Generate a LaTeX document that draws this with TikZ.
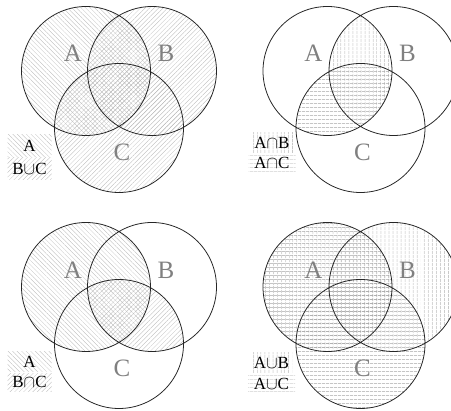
\documentclass[tikz,border=0pt]{standalone}
\usepackage{fontspec}
\setmainfont{Liberation Serif}
\usetikzlibrary{patterns.meta, positioning}

\tikzset{
  vennline/.style={draw=black!85, line width=0.8pt},
  backhatch/.style={pattern={Lines[angle=-45,distance=3.2pt,line width=0.3pt]}, pattern color=gray!55},
  fwdhatch/.style={pattern={Lines[angle=45,distance=3.2pt,line width=0.3pt]}, pattern color=gray!55},
  vhatch/.style={pattern={Lines[angle=90,distance=4pt,line width=0.35pt]}, pattern color=gray!70},
  hhatch/.style={pattern={Lines[angle=0,distance=4pt,line width=0.35pt]}, pattern color=gray!70},
  setlabel/.style={text=gray, font=\fontsize{25}{25}\selectfont},
  legendbox/.style={minimum width=44pt, minimum height=22pt, inner sep=0pt, font=\fontsize{17}{17}\selectfont},
}
\newcommand{\vennA}{(0,0) circle (64.5pt)}
\newcommand{\vennB}{(66,0) circle (64.5pt)}
\newcommand{\vennC}{(33,57) circle (64.5pt)}

\begin{document}
\begin{tikzpicture}[x=1pt, y=-1pt]
    \useasboundingbox (0,0) rectangle (451,411);
    \clip (0,0) rectangle (451,411);

    % --- Top left: A and B u C ---
    \begin{scope}[shift={(86,71)}]
        \fill[backhatch] \vennA;
        \fill[fwdhatch] \vennB;
        \fill[fwdhatch] \vennC;
        \draw[vennline] \vennA \vennB \vennC;
        \node[setlabel] (labA1) at (-13,-18) {A};
        \node[setlabel] (labB1) at (80,-18) {B};
        \node[setlabel] (labC1) at (36,81) {C};
        % legend
        \node[legendbox, backhatch] (keyA1) at (-56.5,74.5) {A};
        \node[legendbox, fwdhatch, below=1pt of keyA1] (keyBC1) {B$\cup$C};
    \end{scope}

    % --- Top right: A n B and A n C ---
    \begin{scope}[shift={(327.5,71)}]
        \begin{scope}
            \clip \vennA;
            \fill[vhatch] \vennB;
            \fill[hhatch] \vennC;
        \end{scope}
        \draw[vennline] \vennA \vennB \vennC;
        \node[setlabel] (labA2) at (-14,-18) {A};
        \node[setlabel] (labB2) at (80,-18) {B};
        \node[setlabel] (labC2) at (35,81) {C};
        % legend
        \node[legendbox, vhatch, minimum width=42pt, minimum height=20pt] (keyAB2) at (-55.5,72) {A$\cap$B};
        \node[legendbox, hhatch, minimum width=47pt, minimum height=17pt, below=1pt of keyAB2] (keyAC2) {A$\cap$C};
    \end{scope}

    % --- Bottom left: A and B n C ---
    \begin{scope}[shift={(86,287)}]
        \fill[backhatch] \vennA;
        \begin{scope}
            \clip \vennB;
            \fill[fwdhatch] \vennC;
        \end{scope}
        \draw[vennline] \vennA \vennB \vennC;
        \node[setlabel] (labA3) at (-13,-17) {A};
        \node[setlabel] (labB3) at (80,-17) {B};
        \node[setlabel] (labC3) at (36,81) {C};
        % legend
        \node[legendbox, backhatch, minimum height=20pt] (keyA3) at (-56.5,75) {A};
        \node[legendbox, fwdhatch, minimum height=18pt, below=1pt of keyA3] (keyBC3) {B$\cap$C};
    \end{scope}

    % --- Bottom right: A u B and A u C ---
    \begin{scope}[shift={(327.5,287)}]
        \fill[vhatch] \vennA;
        \fill[vhatch] \vennB;
        \fill[hhatch] \vennA;
        \fill[hhatch] \vennC;
        \draw[vennline] \vennA \vennB \vennC;
        \node[setlabel] (labA4) at (-14,-17) {A};
        \node[setlabel] (labB4) at (80,-17) {B};
        \node[setlabel] (labC4) at (35,81) {C};
        % legend
        \node[legendbox, vhatch, minimum width=41pt, minimum height=20pt] (keyAB4) at (-56,76) {A$\cup$B};
        \node[legendbox, hhatch, minimum width=47pt, minimum height=18pt, below=2pt of keyAB4] (keyAC4) {A$\cup$C};
    \end{scope}
\end{tikzpicture}
\end{document}
